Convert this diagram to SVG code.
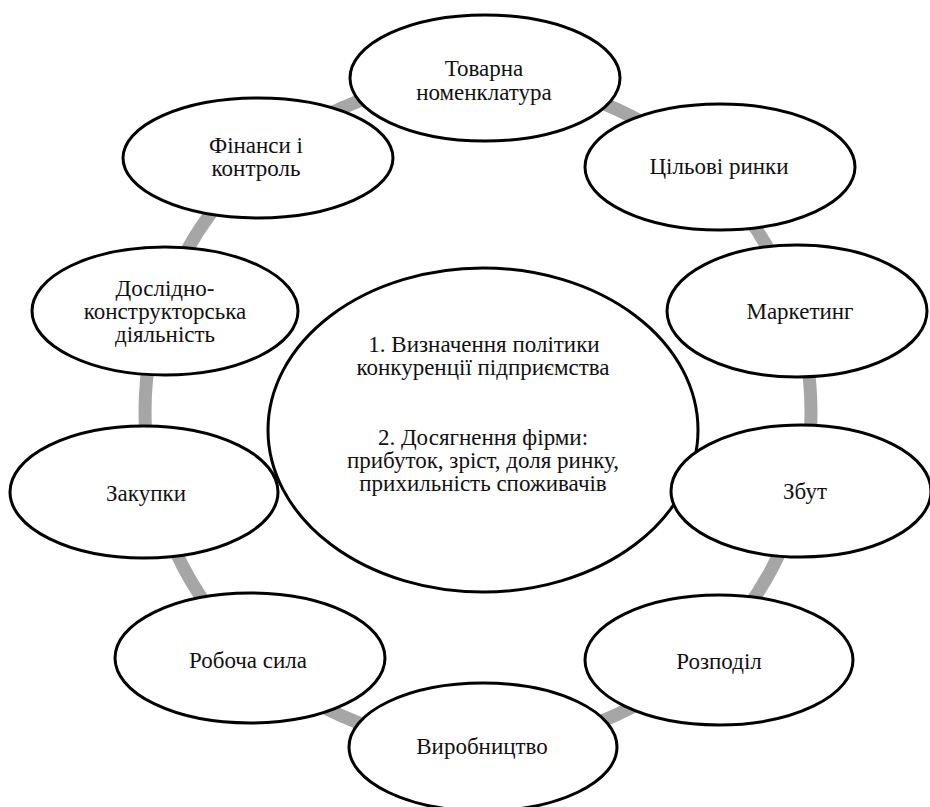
<svg xmlns="http://www.w3.org/2000/svg" width="930" height="807" viewBox="0 0 930 807">
<style>
.n{fill:#fff;stroke:#000;stroke-width:3}
.t{font-family:'Liberation Serif','Times New Roman',serif;font-size:23px;fill:#111;text-anchor:middle}
.ring{fill:none;stroke:#a6a6a6;stroke-width:13}
</style>
<rect width="930" height="807" fill="#fff"/>
<g id="connectors">
<circle class="ring" cx="478" cy="412" r="333"/>
</g>
<g id="center">
<ellipse class="n" cx="483" cy="430" rx="215" ry="162"/>
<text class="t"><tspan x="484" y="352">1. Визначення політики</tspan><tspan x="483" y="375">конкуренції підприємства</tspan><tspan x="483" y="445">2. Досягнення фірми:</tspan><tspan x="483" y="468">прибуток, зріст, доля ринку,</tspan><tspan x="483" y="491">прихильність споживачів</tspan></text>
</g>
<g id="tovarna">
<ellipse class="n" cx="485" cy="78" rx="135" ry="63"/>
<text class="t"><tspan x="484" y="76">Товарна</tspan><tspan x="484" y="100">номенклатура</tspan></text>
</g>
<g id="tsilovi">
<ellipse class="n" cx="720" cy="167" rx="135" ry="63"/>
<text class="t" x="719" y="174">Цільові ринки</text>
</g>
<g id="marketing">
<ellipse class="n" cx="797" cy="311" rx="130" ry="66"/>
<text class="t" x="800" y="319">Маркетинг</text>
</g>
<g id="zbut">
<ellipse class="n" cx="801" cy="491" rx="130" ry="66"/>
<text class="t" x="805" y="499">Збут</text>
</g>
<g id="rozpodil">
<ellipse class="n" cx="719" cy="660" rx="134" ry="65"/>
<text class="t" x="719" y="669">Розподіл</text>
</g>
<g id="vyrobnytstvo">
<ellipse class="n" cx="483" cy="747" rx="134" ry="64"/>
<text class="t" x="482" y="754">Виробництво</text>
</g>
<g id="robocha">
<ellipse class="n" cx="250" cy="658" rx="135" ry="65"/>
<text class="t" x="248" y="668">Робоча сила</text>
</g>
<g id="zakupky">
<ellipse class="n" cx="144" cy="492" rx="134" ry="66"/>
<text class="t" x="146" y="501">Закупки</text>
</g>
<g id="doslidno">
<ellipse class="n" cx="165" cy="311" rx="133" ry="64"/>
<text class="t"><tspan x="165" y="296">Дослідно-</tspan><tspan x="165" y="319">конструкторська</tspan><tspan x="165" y="342">діяльність</tspan></text>
</g>
<g id="finansy">
<ellipse class="n" cx="258" cy="158" rx="135" ry="60"/>
<text class="t"><tspan x="256" y="153">Фінанси і</tspan><tspan x="256" y="176">контроль</tspan></text>
</g>
</svg>
